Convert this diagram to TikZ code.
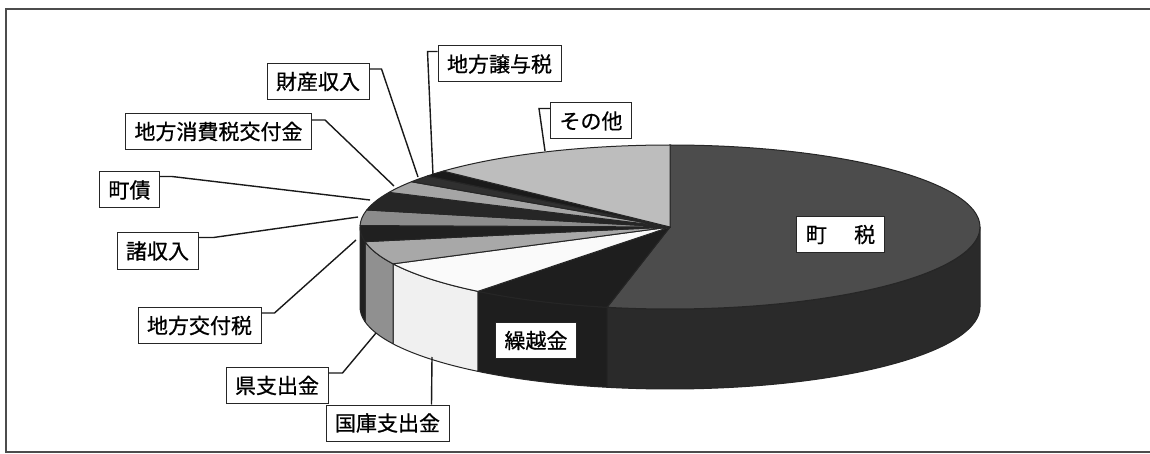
\documentclass[tikz,border=0pt]{standalone}
\usepackage{fontspec}
\setmainfont{Noto Sans CJK JP}
\newfontfamily\lblfont[FakeBold=0.7]{Noto Sans CJK JP}
\usepackage{tikz}
\usetikzlibrary{positioning}

\definecolor{cTax}{HTML}{4C4C4C}
\definecolor{cTaxS}{HTML}{2A2A2A}
\definecolor{cCarry}{HTML}{1E1E1E}
\definecolor{cNat}{HTML}{FAFAFA}
\definecolor{cNatS}{HTML}{F0F0F0}
\definecolor{cPref}{HTML}{A8A8A8}
\definecolor{cPrefS}{HTML}{909090}
\definecolor{cGrant}{HTML}{202020}
\definecolor{cMisc}{HTML}{8C8C8C}
\definecolor{cBond}{HTML}{262626}
\definecolor{cCons}{HTML}{A5A5A5}
\definecolor{cProp}{HTML}{303030}
\definecolor{cTrans}{HTML}{1A1A1A}
\definecolor{cOther}{HTML}{BDBDBD}

\begin{document}
\begin{tikzpicture}[x=1pt, y=-1pt,
	lbl/.style={draw=black!85, fill=white, line width=1pt, inner xsep=9pt, inner ysep=0pt, minimum height=36pt, font=\lblfont\fontsize{21}{24}\selectfont},
	lead/.style={draw=black!90, line width=1.4pt},
	slice/.style={draw=black!85, line width=1pt, line join=round}]
			\useasboundingbox (0,0) rectangle (1150,454);
			\fill[white] (0,0) rectangle (1150,454);
			\draw[line width=1.6pt, black!70] (1160,9) -- (6,9) -- (6,452) -- (1160,452); %frame

			\coordinate (O) at (670,227);

			% side faces
			\filldraw[slice, fill=cTaxS, shift={(O)}] (0:310 and 82) arc[start angle=0, end angle=101.7, x radius=310, y radius=82] -- ++(0,80) arc[start angle=101.7, end angle=0, x radius=310, y radius=82] -- cycle;
			\filldraw[slice, fill=cCarry, shift={(O)}] (101.7:310 and 82) arc[start angle=101.7, end angle=128.3, x radius=310, y radius=82] -- ++(0,80) arc[start angle=128.3, end angle=101.7, x radius=310, y radius=82] -- cycle;
			\filldraw[slice, fill=cNatS, shift={(O)}] (128.3:310 and 82) arc[start angle=128.3, end angle=153.3, x radius=310, y radius=82] -- ++(0,80) arc[start angle=153.3, end angle=128.3, x radius=310, y radius=82] -- cycle;
			\filldraw[slice, fill=cPrefS, shift={(O)}] (153.3:310 and 82) arc[start angle=153.3, end angle=169.7, x radius=310, y radius=82] -- ++(0,80) arc[start angle=169.7, end angle=153.3, x radius=310, y radius=82] -- cycle;
			\filldraw[slice, fill=cGrant, shift={(O)}] (169.7:310 and 82) arc[start angle=169.7, end angle=180, x radius=310, y radius=82] -- ++(0,80) arc[start angle=180, end angle=169.7, x radius=310, y radius=82] -- cycle;

			% top faces
			\filldraw[slice, fill=cTax, shift={(O)}] (0,0) -- (-90:310 and 82) arc[start angle=-90, end angle=101.7, x radius=310, y radius=82] -- cycle;
			\filldraw[slice, fill=cCarry, shift={(O)}] (0,0) -- (101.7:310 and 82) arc[start angle=101.7, end angle=128.3, x radius=310, y radius=82] -- cycle;
			\filldraw[slice, fill=cNat, shift={(O)}] (0,0) -- (128.3:310 and 82) arc[start angle=128.3, end angle=153.3, x radius=310, y radius=82] -- cycle;
			\filldraw[slice, fill=cPref, shift={(O)}] (0,0) -- (153.3:310 and 82) arc[start angle=153.3, end angle=169.7, x radius=310, y radius=82] -- cycle;
			\filldraw[slice, fill=cGrant, shift={(O)}] (0,0) -- (169.7:310 and 82) arc[start angle=169.7, end angle=181, x radius=310, y radius=82] -- cycle;
			\filldraw[slice, fill=cMisc, shift={(O)}] (0,0) -- (181:310 and 82) arc[start angle=181, end angle=192, x radius=310, y radius=82] -- cycle;
			\filldraw[slice, fill=cBond, shift={(O)}] (0,0) -- (192:310 and 82) arc[start angle=192, end angle=205, x radius=310, y radius=82] -- cycle;
			\filldraw[slice, fill=cCons, shift={(O)}] (0,0) -- (205:310 and 82) arc[start angle=205, end angle=213.5, x radius=310, y radius=82] -- cycle;
			\filldraw[slice, fill=cProp, shift={(O)}] (0,0) -- (213.5:310 and 82) arc[start angle=213.5, end angle=218.5, x radius=310, y radius=82] -- cycle;
			\filldraw[slice, fill=cTrans, shift={(O)}] (0,0) -- (218.5:310 and 82) arc[start angle=218.5, end angle=223, x radius=310, y radius=82] -- cycle;
			\filldraw[slice, fill=cOther, shift={(O)}] (0,0) -- (223:310 and 82) arc[start angle=223, end angle=270, x radius=310, y radius=82] -- cycle;

			% leader ends on the pie
			\coordinate (e-jouyo) at (433,175);
			\coordinate (e-sonota) at (545,151);
			\coordinate (e-zaisan) at (418,177);
			\coordinate (e-shouhi) at (394,186);
			\coordinate (e-chousai) at (370,200);
			\coordinate (e-shoshu) at (358,217);
			\coordinate (e-koufu) at (356,240);
			\coordinate (e-ken) at (376,333);
			\coordinate (e-kokko) at (432,357);

			% labels
			\node[lbl] (jouyo) at (499.5,64) {地方譲与税};
			\node[lbl] (sonota) at (591,121) {その他};
			\node[lbl] (zaisan) at (318,81.5) {財産収入};
			\node[lbl] (shouhi) at (218.5,131.5) {地方消費税交付金};
			\node[lbl] (chousai) at (129.5,190) {町債};
			\node[lbl] (shoshu) at (157.5,251) {諸収入};
			\node[lbl] (koufu) at (199.5,325.5) {地方交付税};
			\node[lbl] (ken) at (277,385.5) {県支出金};
			\node[lbl] (kokko) at (387.5,423) {国庫支出金};
			\node[lbl] (kurikoshi) at (536,340.5) {繰越金};
			\node[lbl] (chouzei) at (840.5,234.5) {町\hspace{1.3em}税};

			\draw[lead] (jouyo.north west) ++(0,6) -- ++(-10,0) -- (e-jouyo);
			\draw[lead] (sonota.north west) ++(0,6) -- ++(-11,0) -- (e-sonota);
			\draw[lead] (zaisan.north east) ++(0,6) -- ++(12,0) -- (e-zaisan);
			\draw[lead] (shouhi.north east) ++(0,7) -- ++(13,0) -- (e-shouhi);
			\draw[lead] (chousai.north east) ++(0,5) -- ++(12,0) -- (e-chousai);
			\draw[lead] (shoshu.north east) ++(0,5) -- ++(15,0) -- (e-shoshu);
			\draw[lead] (koufu.north east) ++(0,6) -- ++(13,0) -- (e-koufu);
			\draw[lead] (ken.north east) ++(0,6) -- ++(14,0) -- (e-ken);
			\draw[lead] (kokko.north east) ++(-18,0) -- (e-kokko);
        \end{tikzpicture}
\end{document}
